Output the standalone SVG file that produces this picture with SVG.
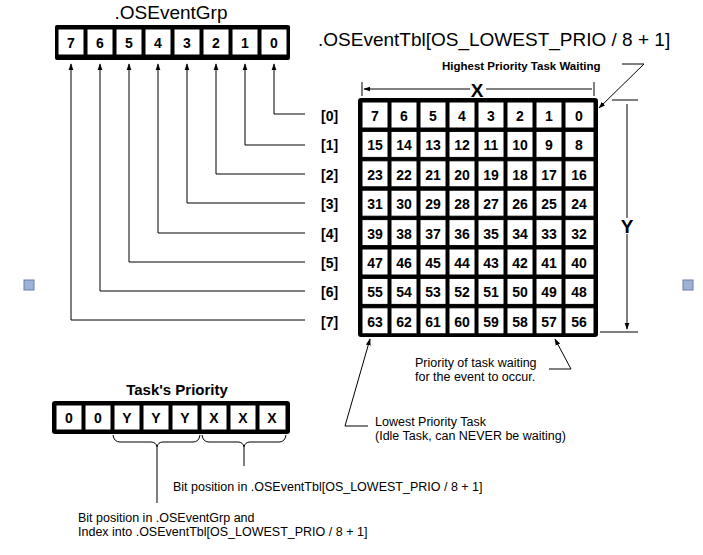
<svg xmlns="http://www.w3.org/2000/svg" width="703" height="555" viewBox="0 0 703 555">
<style>
text{font-family:"Liberation Sans",Arial,sans-serif;fill:#000}
.c{font-size:14px;font-weight:bold;text-anchor:middle}
.t{font-size:19px}
.s{font-size:12.5px}
.sb{font-size:11.5px;font-weight:bold}
.rl{font-size:14px;font-weight:bold}
.l{fill:none;stroke:#000;stroke-width:1}
.cell{fill:#fff;stroke:#000;stroke-width:1}
</style>
<defs>
<marker id="a" viewBox="0 0 10 10" refX="9" refY="5" markerWidth="7" markerHeight="7" orient="auto-start-reverse"><path d="M0,1.5 L10,5 L0,8.5 z" fill="#000"/></marker>
</defs>
<rect x="24" y="280" width="10" height="10" fill="#9fb2d6" stroke="#6a7fa8"/>
<rect x="683" y="280" width="10" height="10" fill="#9fb2d6" stroke="#6a7fa8"/>

<g id="osEventGrp">
<text x="171" y="19" class="t" text-anchor="middle">.OSEventGrp</text>
<rect x="55" y="25" width="235" height="35" rx="2" fill="#000"/>
<g class="c">
<rect class="cell" x="58" y="29" width="26" height="26"/><text x="71" y="48">7</text>
<rect class="cell" x="87" y="29" width="26" height="26"/><text x="100" y="48">6</text>
<rect class="cell" x="116" y="29" width="26" height="26"/><text x="129" y="48">5</text>
<rect class="cell" x="145" y="29" width="26" height="26"/><text x="158" y="48">4</text>
<rect class="cell" x="174" y="29" width="26" height="26"/><text x="187" y="48">3</text>
<rect class="cell" x="203" y="29" width="26" height="26"/><text x="216" y="48">2</text>
<rect class="cell" x="232" y="29" width="26" height="26"/><text x="245" y="48">1</text>
<rect class="cell" x="261" y="29" width="26" height="26"/><text x="274" y="48">0</text>
</g>
</g>

<g id="osEventTbl">
<text x="318" y="46" class="t">.OSEventTbl[OS_LOWEST_PRIO / 8 + 1]</text>
<rect x="358" y="98" width="240" height="239" rx="3" fill="#000"/>
</g>

<g id="tblCells" class="c">
<g transform="translate(0,0)">
<rect class="cell" x="362" y="102" width="26" height="26"/><text x="375" y="121">7</text>
<rect class="cell" x="391" y="102" width="26" height="26"/><text x="404" y="121">6</text>
<rect class="cell" x="420" y="102" width="26" height="26"/><text x="433" y="121">5</text>
<rect class="cell" x="449" y="102" width="26" height="26"/><text x="462" y="121">4</text>
<rect class="cell" x="478" y="102" width="26" height="26"/><text x="491" y="121">3</text>
<rect class="cell" x="507" y="102" width="26" height="26"/><text x="520" y="121">2</text>
<rect class="cell" x="536" y="102" width="26" height="26"/><text x="549" y="121">1</text>
<rect class="cell" x="565" y="102" width="29" height="26"/><text x="579" y="121">0</text>
</g>
<g transform="translate(0,29.4)">
<rect class="cell" x="362" y="102" width="26" height="26"/><text x="375" y="121">15</text>
<rect class="cell" x="391" y="102" width="26" height="26"/><text x="404" y="121">14</text>
<rect class="cell" x="420" y="102" width="26" height="26"/><text x="433" y="121">13</text>
<rect class="cell" x="449" y="102" width="26" height="26"/><text x="462" y="121">12</text>
<rect class="cell" x="478" y="102" width="26" height="26"/><text x="491" y="121">11</text>
<rect class="cell" x="507" y="102" width="26" height="26"/><text x="520" y="121">10</text>
<rect class="cell" x="536" y="102" width="26" height="26"/><text x="549" y="121">9</text>
<rect class="cell" x="565" y="102" width="29" height="26"/><text x="579" y="121">8</text>
</g>
<g transform="translate(0,58.8)">
<rect class="cell" x="362" y="102" width="26" height="26"/><text x="375" y="121">23</text>
<rect class="cell" x="391" y="102" width="26" height="26"/><text x="404" y="121">22</text>
<rect class="cell" x="420" y="102" width="26" height="26"/><text x="433" y="121">21</text>
<rect class="cell" x="449" y="102" width="26" height="26"/><text x="462" y="121">20</text>
<rect class="cell" x="478" y="102" width="26" height="26"/><text x="491" y="121">19</text>
<rect class="cell" x="507" y="102" width="26" height="26"/><text x="520" y="121">18</text>
<rect class="cell" x="536" y="102" width="26" height="26"/><text x="549" y="121">17</text>
<rect class="cell" x="565" y="102" width="29" height="26"/><text x="579" y="121">16</text>
</g>
<g transform="translate(0,88.2)">
<rect class="cell" x="362" y="102" width="26" height="26"/><text x="375" y="121">31</text>
<rect class="cell" x="391" y="102" width="26" height="26"/><text x="404" y="121">30</text>
<rect class="cell" x="420" y="102" width="26" height="26"/><text x="433" y="121">29</text>
<rect class="cell" x="449" y="102" width="26" height="26"/><text x="462" y="121">28</text>
<rect class="cell" x="478" y="102" width="26" height="26"/><text x="491" y="121">27</text>
<rect class="cell" x="507" y="102" width="26" height="26"/><text x="520" y="121">26</text>
<rect class="cell" x="536" y="102" width="26" height="26"/><text x="549" y="121">25</text>
<rect class="cell" x="565" y="102" width="29" height="26"/><text x="579" y="121">24</text>
</g>
<g transform="translate(0,117.6)">
<rect class="cell" x="362" y="102" width="26" height="26"/><text x="375" y="121">39</text>
<rect class="cell" x="391" y="102" width="26" height="26"/><text x="404" y="121">38</text>
<rect class="cell" x="420" y="102" width="26" height="26"/><text x="433" y="121">37</text>
<rect class="cell" x="449" y="102" width="26" height="26"/><text x="462" y="121">36</text>
<rect class="cell" x="478" y="102" width="26" height="26"/><text x="491" y="121">35</text>
<rect class="cell" x="507" y="102" width="26" height="26"/><text x="520" y="121">34</text>
<rect class="cell" x="536" y="102" width="26" height="26"/><text x="549" y="121">33</text>
<rect class="cell" x="565" y="102" width="29" height="26"/><text x="579" y="121">32</text>
</g>
<g transform="translate(0,147)">
<rect class="cell" x="362" y="102" width="26" height="26"/><text x="375" y="121">47</text>
<rect class="cell" x="391" y="102" width="26" height="26"/><text x="404" y="121">46</text>
<rect class="cell" x="420" y="102" width="26" height="26"/><text x="433" y="121">45</text>
<rect class="cell" x="449" y="102" width="26" height="26"/><text x="462" y="121">44</text>
<rect class="cell" x="478" y="102" width="26" height="26"/><text x="491" y="121">43</text>
<rect class="cell" x="507" y="102" width="26" height="26"/><text x="520" y="121">42</text>
<rect class="cell" x="536" y="102" width="26" height="26"/><text x="549" y="121">41</text>
<rect class="cell" x="565" y="102" width="29" height="26"/><text x="579" y="121">40</text>
</g>
<g transform="translate(0,176.4)">
<rect class="cell" x="362" y="102" width="26" height="26"/><text x="375" y="121">55</text>
<rect class="cell" x="391" y="102" width="26" height="26"/><text x="404" y="121">54</text>
<rect class="cell" x="420" y="102" width="26" height="26"/><text x="433" y="121">53</text>
<rect class="cell" x="449" y="102" width="26" height="26"/><text x="462" y="121">52</text>
<rect class="cell" x="478" y="102" width="26" height="26"/><text x="491" y="121">51</text>
<rect class="cell" x="507" y="102" width="26" height="26"/><text x="520" y="121">50</text>
<rect class="cell" x="536" y="102" width="26" height="26"/><text x="549" y="121">49</text>
<rect class="cell" x="565" y="102" width="29" height="26"/><text x="579" y="121">48</text>
</g>
<g transform="translate(0,205.8)">
<rect class="cell" x="362" y="102" width="26" height="26"/><text x="375" y="121">63</text>
<rect class="cell" x="391" y="102" width="26" height="26"/><text x="404" y="121">62</text>
<rect class="cell" x="420" y="102" width="26" height="26"/><text x="433" y="121">61</text>
<rect class="cell" x="449" y="102" width="26" height="26"/><text x="462" y="121">60</text>
<rect class="cell" x="478" y="102" width="26" height="26"/><text x="491" y="121">59</text>
<rect class="cell" x="507" y="102" width="26" height="26"/><text x="520" y="121">58</text>
<rect class="cell" x="536" y="102" width="26" height="26"/><text x="549" y="121">57</text>
<rect class="cell" x="565" y="102" width="29" height="26"/><text x="579" y="121">56</text>
</g>
</g>

<g id="rowLabels">
<text x="321" y="121" class="rl">[0]</text>
<text x="321" y="150" class="rl">[1]</text>
<text x="321" y="180" class="rl">[2]</text>
<text x="321" y="209" class="rl">[3]</text>
<text x="321" y="239" class="rl">[4]</text>
<text x="321" y="268" class="rl">[5]</text>
<text x="321" y="297" class="rl">[6]</text>
<text x="321" y="327" class="rl">[7]</text>
</g>

<g id="taskPriority">
<text x="177" y="395" text-anchor="middle" font-size="15" font-weight="bold">Task's Priority</text>
<rect x="52" y="401" width="238" height="33" rx="3" fill="#000"/>
<g class="c">
<rect class="cell" x="56" y="405" width="26" height="25"/><text x="69" y="423">0</text>
<rect class="cell" x="85" y="405" width="26" height="25"/><text x="98" y="423">0</text>
<rect class="cell" x="114" y="405" width="26" height="25"/><text x="127" y="423">Y</text>
<rect class="cell" x="143" y="405" width="26" height="25"/><text x="156" y="423">Y</text>
<rect class="cell" x="172" y="405" width="26" height="25"/><text x="185" y="423">Y</text>
<rect class="cell" x="201" y="405" width="26" height="25"/><text x="214" y="423">X</text>
<rect class="cell" x="230" y="405" width="26" height="25"/><text x="243" y="423">X</text>
<rect class="cell" x="259" y="405" width="27" height="25"/><text x="272" y="423">X</text>
</g>
</g>

<g id="connectors" class="l">
<path d="M274,114 H305 M274,114 V64" marker-end="url(#a)"/>
<path d="M245,145 H305 M245,145 V64" marker-end="url(#a)"/>
<path d="M216,174 H305 M216,174 V64" marker-end="url(#a)"/>
<path d="M187,203 H305 M187,203 V64" marker-end="url(#a)"/>
<path d="M158,233 H305 M158,233 V64" marker-end="url(#a)"/>
<path d="M129,262 H305 M129,262 V64" marker-end="url(#a)"/>
<path d="M100,291 H305 M100,291 V64" marker-end="url(#a)"/>
<path d="M71,320 H305 M71,320 V64" marker-end="url(#a)"/>
<path d="M362,82 V96 M594,82 V96"/>
<path d="M470,89 H364" marker-end="url(#a)"/>
<path d="M486,89 H592"/>
<path d="M612,100 H638 M600,332 H638"/>
<path d="M627,104 V218 M627,234 V329" marker-end="url(#a)"/>
<path d="M622,64 H644 L599,108" marker-end="url(#a)"/>
<path d="M549,369 H571 L555,339" marker-end="url(#a)"/>
<path d="M368,426 H345 L370,339" marker-end="url(#a)"/>
<path d="M113,435 Q114,442 120,442 H151 Q156,442 157,447 Q158,442 163,442 H193 Q199,442 200,435"/>
<path d="M202,435 Q203,442 209,442 H238 Q243,442 244,447 Q245,442 250,442 H279 Q285,442 286,435"/>
<path d="M157,447 V503 M244,447 V466"/>
</g>

<text x="477" y="97" font-size="19" font-weight="bold" text-anchor="middle">X</text>
<text x="627" y="233" font-size="19" font-weight="bold" text-anchor="middle">Y</text>
<text x="442" y="70" class="sb">Highest Priority Task Waiting</text>
<text x="415" y="367" class="s">Priority of task waiting</text>
<text x="415" y="381" class="s">for the event to occur.</text>
<text x="375" y="426" class="s">Lowest Priority Task</text>
<text x="375" y="440" class="s">(Idle Task, can NEVER be waiting)</text>
<text x="173" y="491" class="s">Bit position in .OSEventTbl[OS_LOWEST_PRIO / 8 + 1]</text>
<text x="78" y="522" class="s">Bit position  in .OSEventGrp and</text>
<text x="78" y="536" class="s">Index into .OSEventTbl[OS_LOWEST_PRIO / 8 + 1]</text>
</svg>
